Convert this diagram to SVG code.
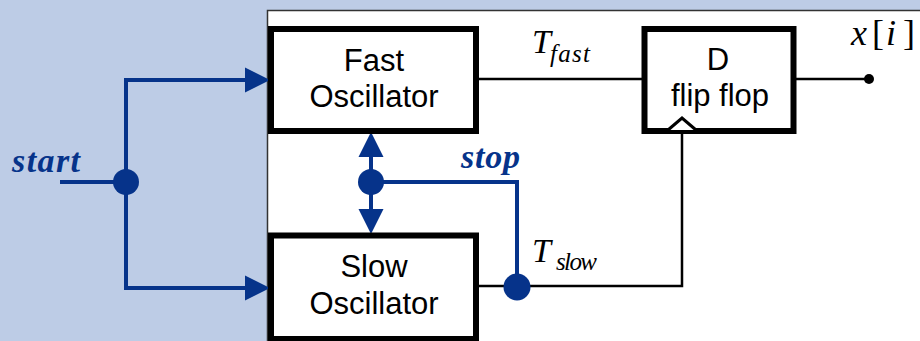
<svg xmlns="http://www.w3.org/2000/svg" width="920" height="341" viewBox="0 0 920 341">
<style>
.box{fill:#fff;stroke:#000;stroke-width:6}
.lbl{font-family:"Liberation Sans",Arial,sans-serif;font-size:31px;fill:#000;text-anchor:middle}
.w{fill:none;stroke:#000;stroke-width:2.5}
.b{fill:none;stroke:#06338a;stroke-width:4}
.dot{fill:#06338a}
.ah{fill:#06338a}
.ti{font-family:"Liberation Serif","Times New Roman",serif;font-style:italic;fill:#000}
.bl{font-family:"Liberation Serif","Times New Roman",serif;font-style:italic;font-weight:bold;fill:#06338a}
</style>
<rect x="0" y="0" width="920" height="341" fill="#bdcce6"/>
<rect x="267.5" y="10.5" width="670" height="340" fill="#fff" stroke="#333" stroke-width="1.5"/>
<g id="connectors">
<line class="w" x1="479" y1="79" x2="642" y2="79"/>
<line class="w" x1="796" y1="79" x2="869" y2="79"/>
<circle cx="869" cy="79" r="5" fill="#000"/>
<polyline class="w" points="479,286 682,286 682,125"/>
<polyline class="b" points="60,182 126,182"/>
<polyline class="b" points="250,80 126,80 126,288 250,288"/>
<polygon class="ah" points="270,80 245,67.5 245,92.5"/>
<polygon class="ah" points="270,288 245,275.5 245,300.5"/>
<line class="b" x1="371" y1="155" x2="371" y2="212"/>
<polygon class="ah" points="371,132 358.5,157 383.5,157"/>
<polygon class="ah" points="371,234 358.5,209 383.5,209"/>
<polyline class="b" points="371,182 517,182 517,286"/>
<circle class="dot" cx="126" cy="182" r="13"/>
<circle class="dot" cx="371" cy="182" r="13"/>
<circle class="dot" cx="517" cy="287" r="13.5"/>
</g>
<g id="fast">
<rect class="box" x="271" y="29" width="205" height="102"/>
<text class="lbl" x="374" y="71">Fast</text>
<text class="lbl" x="374" y="107">Oscillator</text>
</g>
<g id="slow">
<rect class="box" x="271" y="235.5" width="205" height="103.5"/>
<text class="lbl" x="374" y="277">Slow</text>
<text class="lbl" x="374" y="314">Oscillator</text>
</g>
<g id="dff">
<rect class="box" x="644.5" y="29" width="149" height="102"/>
<polyline points="668,130 682,118 696,130" fill="#fff" stroke="#000" stroke-width="3"/>
<text class="lbl" x="718" y="70">D</text>
<text class="lbl" x="720" y="106">flip flop</text>
</g>
<g id="labels">
<text class="ti" x="532" y="53" font-size="34">T</text>
<text class="ti" x="550" y="62" font-size="25" textLength="40">fast</text>
<text class="ti" x="532" y="262" font-size="34">T</text>
<text class="ti" x="556" y="270" font-size="25" textLength="41">slow</text>
<g font-family="Liberation Serif,Times New Roman,serif" font-size="36" fill="#000">
<text x="851" y="45" font-style="italic">x</text>
<text x="872" y="45">[</text>
<text x="886" y="45" font-style="italic">i</text>
<text x="903" y="45">]</text>
</g>
<text class="bl" x="12" y="172" font-size="34" textLength="68">start</text>
<text class="bl" x="461" y="168" font-size="34" textLength="59">stop</text>
</g>
</svg>
